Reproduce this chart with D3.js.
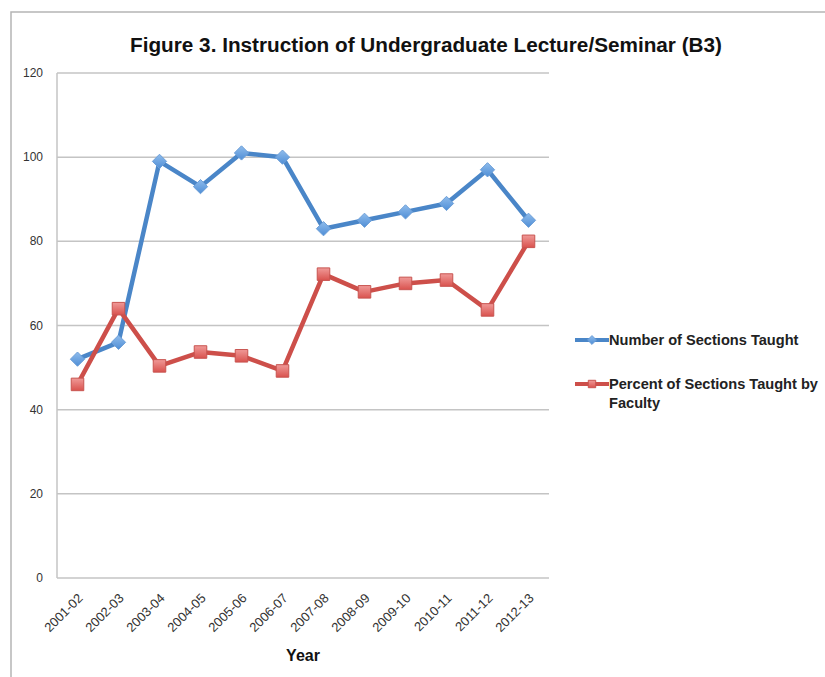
<!DOCTYPE html>
<html>
<head>
<meta charset="utf-8">
<script src="https://cdn.jsdelivr.net/npm/d3@7"></script>
<style>
  body { margin: 0; background: #fff; }
  text { font-family: "Liberation Sans", Arial, sans-serif; }
</style>
</head>
<body>
<div id="chart"></div>
<script>
const years = ["2001-02", "2002-03", "2003-04", "2004-05", "2005-06", "2006-07",
  "2007-08", "2008-09", "2009-10", "2010-11", "2011-12", "2012-13"];
const sectionsTaught = [52, 56, 99, 93, 101, 100, 83, 85, 87, 89, 97, 85];
const percentByFaculty = [46, 64, 50.4, 53.7, 52.8, 49.2, 72.2, 68, 70, 70.8, 63.7, 80];
const yTicks = [0, 20, 40, 60, 80, 100, 120];
const seriesNames = ["Number of Sections Taught", "Percent of Sections Taught by Faculty"];

const width = 825, height = 677;
const margin = { top: 73, right: 276, bottom: 99, left: 57 };

const svg = d3.select("#chart").append("svg")
  .attr("width", width)
  .attr("height", height);

// outer frame
svg.append("rect")
  .attr("x", 11).attr("y", 12)
  .attr("width", width).attr("height", height)
  .attr("fill", "none")
  .attr("stroke", "#b5b5b5")
  .attr("stroke-width", 1.5);

svg.append("text")
  .attr("x", 426).attr("y", 52)
  .attr("text-anchor", "middle")
  .attr("font-size", 20)
  .attr("font-weight", "bold")
  .attr("fill", "#111")
  .attr("textLength", 592)
  .attr("lengthAdjust", "spacingAndGlyphs")
  .text("Figure 3. Instruction of Undergraduate Lecture/Seminar (B3)");

const x = d3.scalePoint()
  .domain(years)
  .range([margin.left, width - margin.right])
  .padding(0.5);

const y = d3.scaleLinear()
  .domain([0, 120])
  .range([height - margin.bottom, margin.top]);

const g = svg.append("g");

// gridlines
g.append("g")
  .selectAll("line")
  .data(yTicks)
  .join("line")
  .attr("x1", margin.left)
  .attr("x2", width - margin.right)
  .attr("y1", (d) => y(d))
  .attr("y2", (d) => y(d))
  .attr("stroke", "#c4c4c4")
  .attr("stroke-width", 1.5);

// y axis line
g.append("line")
  .attr("x1", margin.left).attr("x2", margin.left)
  .attr("y1", y(120)).attr("y2", y(0))
  .attr("stroke", "#c4c4c4")
  .attr("stroke-width", 1.5);

g.append("g")
  .selectAll("text")
  .data(yTicks)
  .join("text")
  .attr("x", margin.left - 14)
  .attr("y", (d) => y(d) + 4)
  .attr("text-anchor", "end")
  .attr("font-size", 12)
  .attr("fill", "#333")
  .text((d) => d);

// x tick labels
g.append("g")
  .selectAll("text")
  .data(years)
  .join("text")
  .attr("text-anchor", "end")
  .attr("font-size", 13)
  .attr("fill", "#333")
  .attr("transform", (d) => `translate(${x(d) + 6},${y(0) + 21}) rotate(-45)`)
  .text((d) => d);

svg.append("text")
  .attr("x", 303).attr("y", 661)
  .attr("text-anchor", "middle")
  .attr("font-size", 16)
  .attr("font-weight", "bold")
  .attr("fill", "#111")
  .text("Year");

const line = d3.line()
  .x((d, i) => x(years[i]))
  .y((d) => y(d));

const blue = "#4a86c8", red = "#cd4f4a";

const defs = svg.append("defs");
const gb = defs.append("linearGradient").attr("id", "gblue")
  .attr("x1", 0).attr("y1", 0).attr("x2", 0).attr("y2", 1);
gb.append("stop").attr("offset", "0%").attr("stop-color", "#8fbcec");
gb.append("stop").attr("offset", "100%").attr("stop-color", "#4f8ed6");
const gr = defs.append("linearGradient").attr("id", "gred")
  .attr("x1", 0).attr("y1", 0).attr("x2", 0).attr("y2", 1);
gr.append("stop").attr("offset", "0%").attr("stop-color", "#f09a98");
gr.append("stop").attr("offset", "100%").attr("stop-color", "#d9524e");

const diamond = d3.symbol().type(d3.symbolDiamond2).size(130);
const square = d3.symbol().type(d3.symbolSquare2).size(200);

g.append("path")
  .datum(sectionsTaught)
  .attr("fill", "none")
  .attr("stroke", blue)
  .attr("stroke-width", 4.5)
  .attr("stroke-linejoin", "round")
  .attr("d", line);

g.append("path")
  .datum(percentByFaculty)
  .attr("fill", "none")
  .attr("stroke", red)
  .attr("stroke-width", 4.5)
  .attr("stroke-linejoin", "round")
  .attr("d", line);

g.append("g")
  .selectAll("path")
  .data(sectionsTaught)
  .join("path")
  .attr("transform", (d, i) => `translate(${x(years[i])},${y(d)})`)
  .attr("d", diamond)
  .attr("fill", "url(#gblue)")
  .attr("stroke", "#6d9fd8")
  .attr("stroke-width", 1);

g.append("g")
  .selectAll("path")
  .data(percentByFaculty)
  .join("path")
  .attr("transform", (d, i) => `translate(${x(years[i])},${y(d)})`)
  .attr("d", square)
  .attr("fill", "url(#gred)")
  .attr("stroke", "#c85450")
  .attr("stroke-width", 1);

// legend
const legend = svg.append("g").attr("transform", "translate(575,340)");
const items = [
  { name: seriesNames[0], color: blue, sym: d3.symbol().type(d3.symbolDiamond2).size(50), fill: "url(#gblue)", stroke: "#6d9fd8", lines: ["Number of Sections Taught"] },
  { name: seriesNames[1], color: red, sym: d3.symbol().type(d3.symbolSquare2).size(70), fill: "url(#gred)", stroke: "#c85450", lines: ["Percent of Sections Taught by", "Faculty"] }
];
items.forEach((it, k) => {
  const row = legend.append("g").attr("transform", `translate(0,${k * 44})`);
  row.append("line")
    .attr("x1", 0).attr("x2", 34)
    .attr("stroke", it.color).attr("stroke-width", 4);
  row.append("path")
    .attr("transform", "translate(17,0)")
    .attr("d", it.sym)
    .attr("fill", it.fill)
    .attr("stroke", it.stroke);
  row.append("text")
    .attr("x", 34).attr("y", 5)
    .attr("font-size", 14.6)
    .attr("font-weight", "bold")
    .attr("fill", "#222")
    .selectAll("tspan")
    .data(it.lines)
    .join("tspan")
    .attr("x", 34)
    .attr("dy", (d, i) => (i ? 19 : 0))
    .text((d) => d);
});
</script>
</body>
</html>
